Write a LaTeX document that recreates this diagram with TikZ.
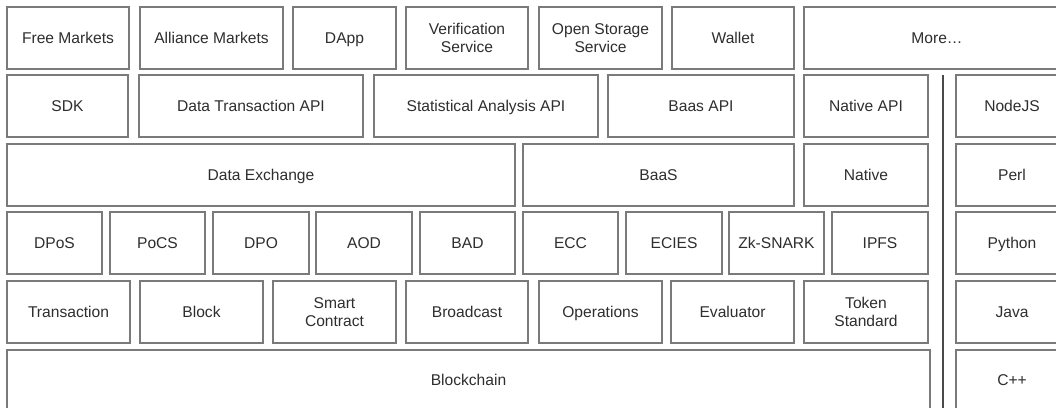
\documentclass[tikz,border=0pt]{standalone}
\usepackage{fontspec}
\setmainfont{Liberation Sans}
\definecolor{bordergray}{HTML}{7A7A7A}
\definecolor{textgray}{HTML}{2E2E2E}
\definecolor{linegray}{HTML}{4A4A4A}
\tikzset{
  boxbase/.style={draw=bordergray, line width=1.3pt, fill=white, inner sep=0pt,
    align=center, text=textgray, font=\fontsize{15.6}{18}\selectfont},
  box/.style={boxbase, text height=11.2pt, text depth=0pt},
  boxtwo/.style={boxbase},
  sep/.style={draw=linegray, line width=2pt}
}
\newcommand\bx[6]{\node[box,minimum width={(#4-#2)*1pt},minimum height={(#5-#3)*1pt}] (#1) at ({(#2+#4)/2},{(#3+#5)/2}) {#6};}
\newcommand\bxtwo[6]{\node[boxtwo,minimum width={(#4-#2)*1pt},minimum height={(#5-#3)*1pt}] (#1) at ({(#2+#4)/2},{(#3+#5)/2}) {#6};}
\begin{document}
\begin{tikzpicture}[x=1pt,y=-1pt]
\useasboundingbox (0,0) rectangle (1056,407);
\clip (0,0) rectangle (1056,407);
% row 1
\bx{free}{7}{7}{129}{69}{Free Markets}
\bx{alliance}{140}{7}{283}{69}{Alliance Markets}
\bx{dapp}{293}{7}{396}{69}{DApp}
\bxtwo{verif}{406}{7}{528}{69}{Verification\\Service}
\bxtwo{openst}{539}{7}{662}{69}{Open Storage\\Service}
\bx{wallet}{672}{7}{794}{69}{Wallet}
\bx{more}{804}{7}{1070}{69}{More…}
% row 2
\bx{sdk}{7}{75}{128}{137}{SDK}
\bx{dtapi}{139}{75}{363}{137}{Data Transaction API}
\bx{saapi}{374}{75}{598}{137}{Statistical Analysis API}
\bx{baasapi}{608}{75}{794}{137}{Baas API}
\bx{napi}{804}{75}{928}{137}{Native API}
\bx{nodejs}{956}{75}{1068}{137}{NodeJS}
% row 3
\bx{dex}{7}{144}{515}{206}{Data Exchange}
\bx{baas}{523}{144}{794}{206}{BaaS}
\bx{native}{804}{144}{928}{206}{Native}
\bx{perl}{956}{144}{1068}{206}{Perl}
% row 4
\bx{dpos}{7}{212}{102}{274}{DPoS}
\bx{pocs}{110}{212}{205}{274}{PoCS}
\bx{dpo}{213}{212}{309}{274}{DPO}
\bx{aod}{316}{212}{412}{274}{AOD}
\bx{bad}{420}{212}{515}{274}{BAD}
\bx{ecc}{523}{212}{618}{274}{ECC}
\bx{ecies}{626}{212}{722}{274}{ECIES}
\bx{zk}{729}{212}{824}{274}{Zk-SNARK}
\bx{ipfs}{832}{212}{928}{274}{IPFS}
\bx{python}{956}{212}{1068}{274}{Python}
% row 5
\bx{trans}{7}{281}{130}{343}{Transaction}
\bx{block}{140}{281}{263}{343}{Block}
\bxtwo{smart}{273}{281}{396}{343}{Smart\\Contract}
\bx{bcast}{406}{281}{528}{343}{Broadcast}
\bx{ops}{539}{281}{662}{343}{Operations}
\bx{eval}{671}{281}{794}{343}{Evaluator}
\bxtwo{token}{804}{281}{928}{343}{Token\\Standard}
\bx{java}{956}{281}{1068}{343}{Java}
% row 6
\bx{chain}{7}{350}{930}{410}{Blockchain}
\bx{cpp}{956}{350}{1068}{410}{C++}
% separator
\coordinate (st) at (943,75);
\coordinate (sb) at (943,412);
\draw[sep] (st) -- (sb);
\end{tikzpicture}
\end{document}
